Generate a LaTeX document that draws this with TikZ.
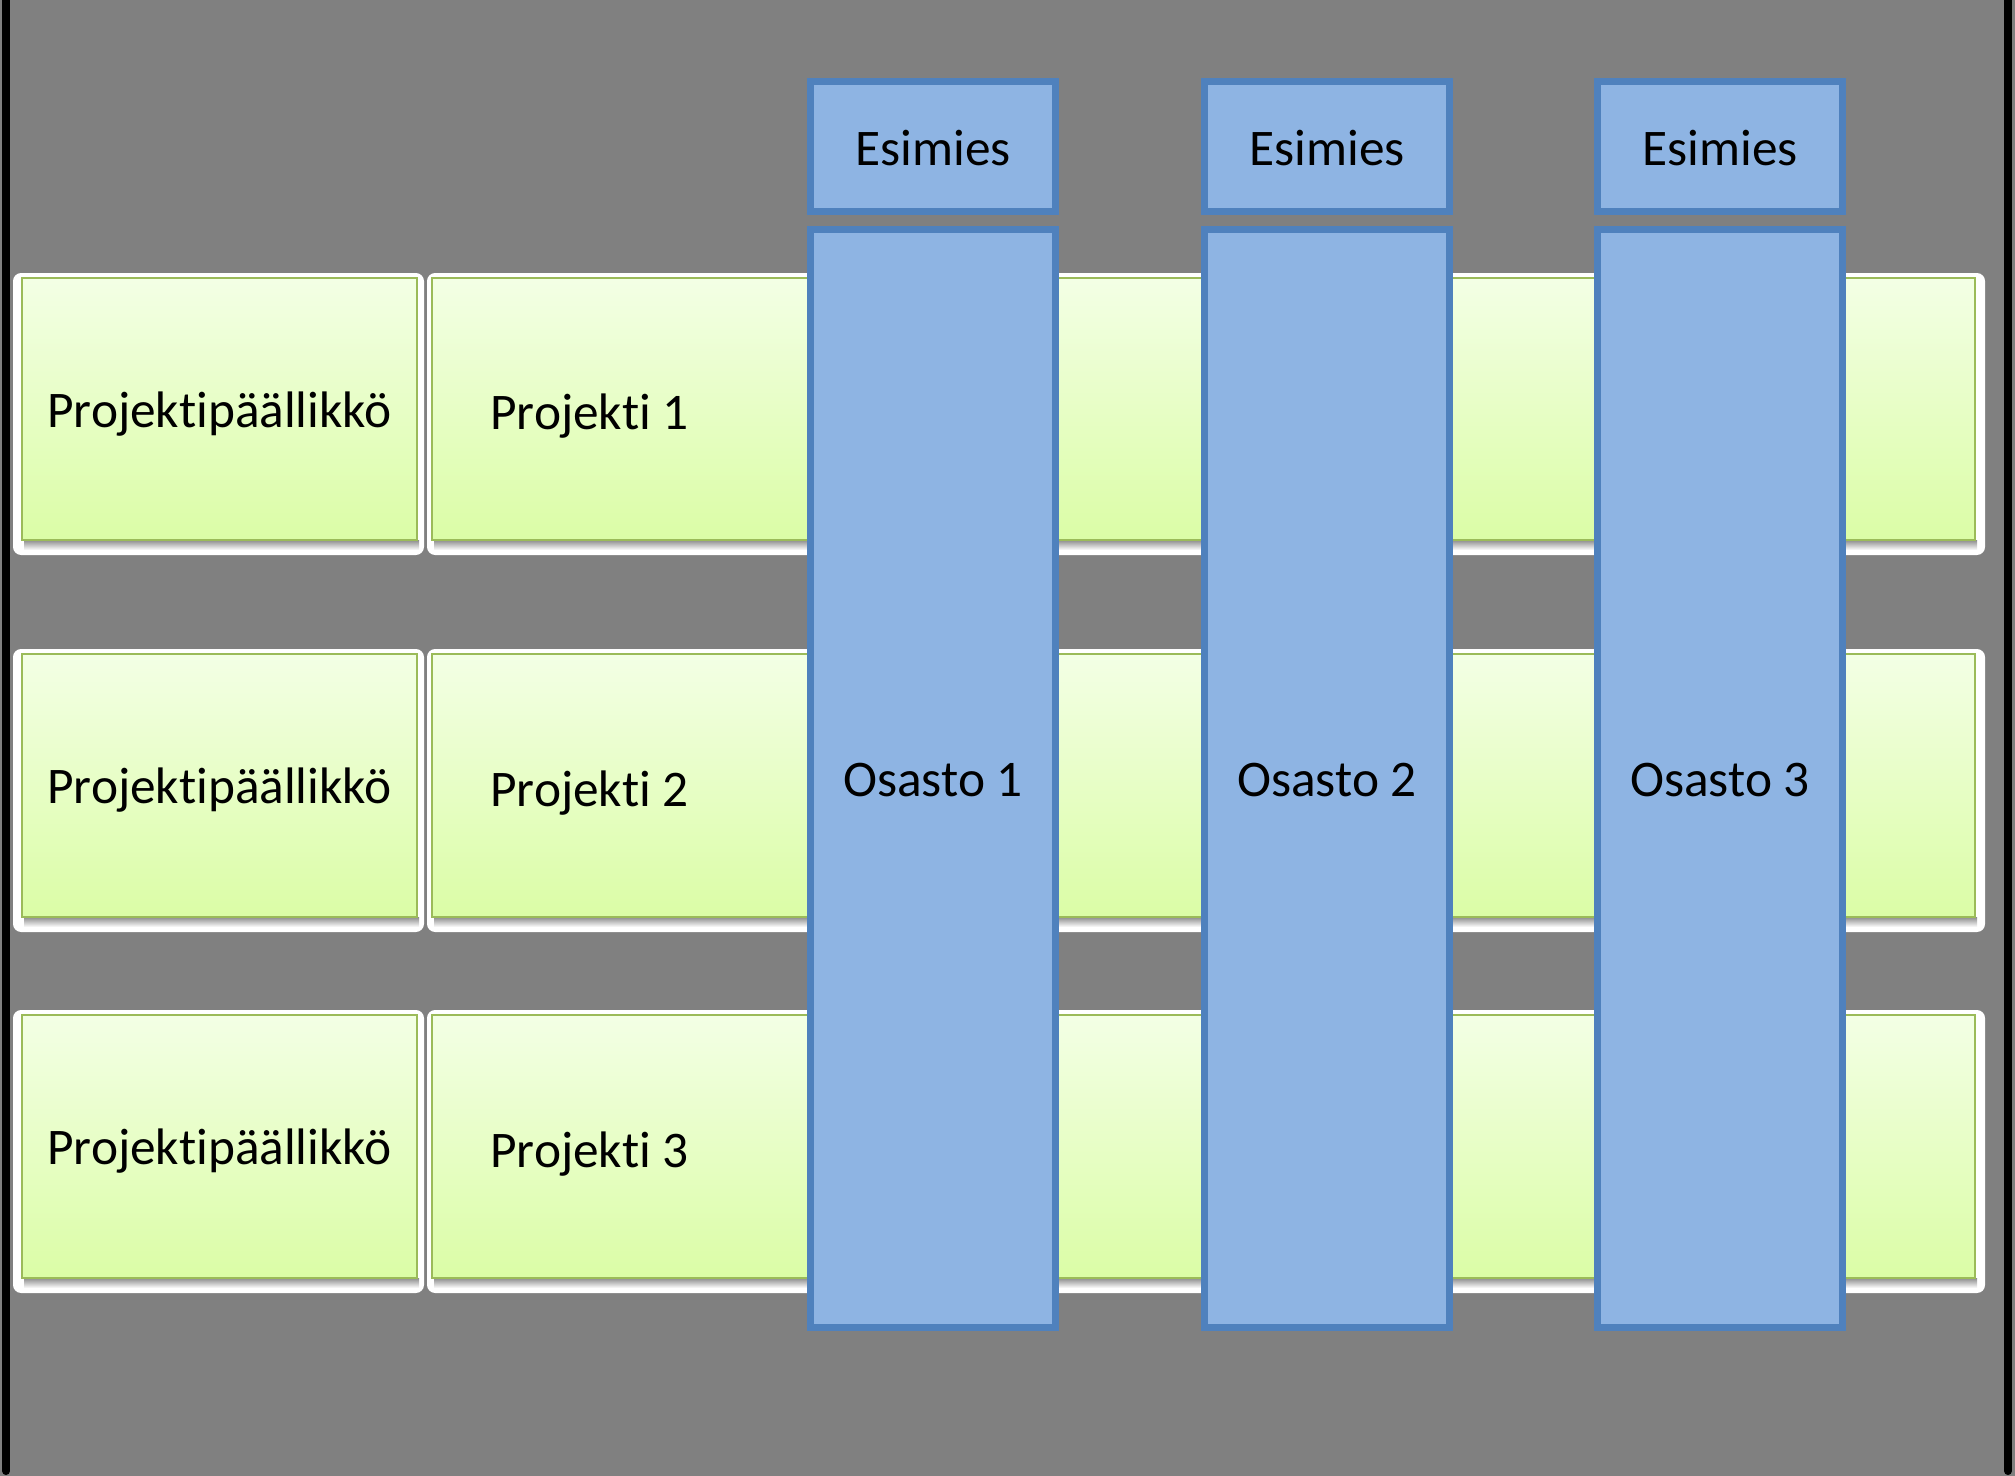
\documentclass[tikz,border=0pt]{standalone}
\usepackage{fontspec}
\setmainfont[Ligatures=NoCommon]{Carlito}

\definecolor{bgGray}{RGB}{128,128,128}
\definecolor{rowTop}{RGB}{243,255,229}
\definecolor{rowBottom}{RGB}{219,253,166}
\definecolor{rowBorder}{RGB}{155,187,89}
\definecolor{colFill}{RGB}{142,180,227}
\definecolor{colBorder}{RGB}{79,129,189}

\tikzset{
  halo/.style={fill=white, rounded corners=2.3pt},
  shade/.style={top color=black!45, bottom color=white},
  rowbox/.style={draw=rowBorder, line width=0.8pt, top color=rowTop, bottom color=rowBottom},
  colbox/.style={draw=colBorder, fill=colFill, line width=2pt},
  txt/.style={font=\fontsize{14.6}{17}\selectfont, text=black, yshift=-0.02cm}
}

\begin{document}
\begin{tikzpicture}[x=0.01cm, y=-0.01cm]
  % Background
  \fill[bgGray] (0,0) rectangle (2015,1476);
  \useasboundingbox (0,0) rectangle (2015,1476);
  \draw[black, line width=0.08cm, line cap=round] (6,0) -- (6,1471);
  \draw[black, line width=0.08cm, line cap=round] (2008,0) -- (2008,1471);
  % Projects
  \fill[halo] (13,273) rectangle (424,555);
  \fill[halo] (427,273) rectangle (1985,555);
  \fill[shade] (24,540) rectangle (419,550);
  \fill[shade] (434,540) rectangle (1977,550);
  \draw[rowbox] (22,278) rectangle node[txt, yshift=-0.03cm] (pm1) {Projektipäällikkö} (417,540);
  \draw[rowbox] (432,278) rectangle (1975,540);
  \node[txt, anchor=west] (proj1) at (478,414) {Projekti 1};
  \fill[halo] (13,649) rectangle (424,932);
  \fill[halo] (427,649) rectangle (1985,932);
  \fill[shade] (24,917) rectangle (419,927);
  \fill[shade] (434,917) rectangle (1977,927);
  \draw[rowbox] (22,654) rectangle node[txt, yshift=-0.03cm] (pm2) {Projektipäällikkö} (417,917);
  \draw[rowbox] (432,654) rectangle (1975,917);
  \node[txt, anchor=west] (proj2) at (478,791) {Projekti 2};
  \fill[halo] (13,1010) rectangle (424,1293);
  \fill[halo] (427,1010) rectangle (1985,1293);
  \fill[shade] (24,1278) rectangle (419,1288);
  \fill[shade] (434,1278) rectangle (1977,1288);
  \draw[rowbox] (22,1015) rectangle node[txt, yshift=-0.03cm] (pm3) {Projektipäällikkö} (417,1278);
  \draw[rowbox] (432,1015) rectangle (1975,1278);
  \node[txt, anchor=west] (proj3) at (478,1152) {Projekti 3};
  % Departments
  \draw[colbox] (810.5,81.5) rectangle node[txt] (boss1) {Esimies} (1055.5,211.5);
  \draw[colbox] (810.5,229.5) rectangle node[txt] (dept1) {Osasto 1} (1055.5,1327.5);
  \draw[colbox] (1204.5,81.5) rectangle node[txt] (boss2) {Esimies} (1449.5,211.5);
  \draw[colbox] (1204.5,229.5) rectangle node[txt] (dept2) {Osasto 2} (1449.5,1327.5);
  \draw[colbox] (1597.5,81.5) rectangle node[txt] (boss3) {Esimies} (1842.5,211.5);
  \draw[colbox] (1597.5,229.5) rectangle node[txt] (dept3) {Osasto 3} (1842.5,1327.5);
\end{tikzpicture}
\end{document}
